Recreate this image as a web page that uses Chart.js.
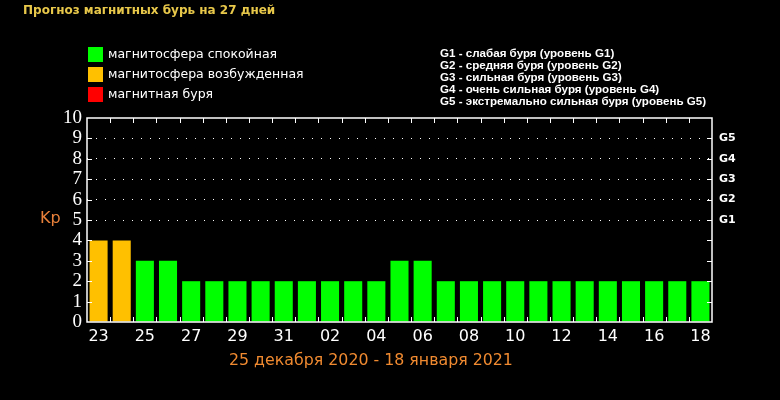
<!DOCTYPE html>
<html>
<head>
<meta charset="utf-8">
<script src="https://cdn.jsdelivr.net/npm/chart.js@4"></script>
<style>
  html, body { margin: 0; padding: 0; background: #000; }
  #wrap { position: relative; width: 780px; height: 400px; overflow: hidden; }
  #wrap canvas { position: absolute; left: 0; top: 0; }
  .txt { position: absolute; white-space: nowrap; }
  #title { left: 23px; top: 2px; font: bold 12px/16px "DejaVu Sans"; color: #e8c84a; }
  .leg { left: 88px; font: 12.5px/15px "DejaVu Sans"; color: #fff; }
  .leg span { display: inline-block; width: 15px; height: 15px; vertical-align: top; margin: 1px 5px 0 0; }
  #glev { left: 440px; top: 47px; font: bold 11.6px/12px "Liberation Sans"; color: #fff; }
  #kp { left: 40px; top: 208px; font: 16px/20px "DejaVu Sans"; color: #e8803a; }
  #period { left: 229px; top: 351px; font: 15.8px/18px "DejaVu Sans"; color: #f08a30; }
</style>
</head>
<body>
<div id="wrap">
  <canvas id="grafico" width="780" height="400"></canvas>
  <div class="txt" id="title">Прогноз магнитных бурь на 27 дней</div>
  <div class="txt leg" style="top:46px"><span style="background:#00ff00"></span>магнитосфера спокойная</div>
  <div class="txt leg" style="top:66px"><span style="background:#ffc000"></span>магнитосфера возбужденная</div>
  <div class="txt leg" style="top:86px"><span style="background:#ff0000"></span>магнитная буря</div>
  <div class="txt" id="glev">
    G1 - слабая буря (уровень G1)<br>
    G2 - средняя буря (уровень G2)<br>
    G3 - сильная буря (уровень G3)<br>
    G4 - очень сильная буря (уровень G4)<br>
    G5 - экстремально сильная буря (уровень G5)
  </div>
  <div class="txt" id="kp">Kp</div>
  <div class="txt" id="period">25 декабря 2020 - 18 января 2021</div>
</div>
<script>
// дни прогноза (23 дек - 18 янв)
const dias = ['23','24','25','26','27','28','29','30','31',
              '01','02','03','04','05','06','07','08','09',
              '10','11','12','13','14','15','16','17','18'];
// индекс Kp
const kp = [4,4,3,3,2,2,2,2,2,
            2,2,2,2,3,3,2,2,2,
            2,2,2,2,2,2,2,2,2];
// уровни бурь справа (Kp 5..9)
const nivelesG = ['G1','G2','G3','G4','G5'];

const VERDE = '#00ff00', NARANJA = '#ffc000', ROJO = '#ff0000';

// рамка и внутренние засечки
const marco = {
    id: 'marco',
    afterDraw(chart) {
        const { ctx, chartArea: a, scales } = chart;
        ctx.save();
        ctx.strokeStyle = '#fff';
        ctx.lineWidth = 1;
        ctx.beginPath();
        for (let i = 1; i < dias.length; i++) {
            const x = Math.round(scales.x.getPixelForValue(i - 0.5)) + 0.5;
            ctx.moveTo(x, a.bottom); ctx.lineTo(x, a.bottom - 5);
            ctx.moveTo(x, a.top); ctx.lineTo(x, a.top + 5);
        }
        for (let v = 1; v < 10; v++) {
            const y = Math.round(scales.y.getPixelForValue(v)) + 0.5;
            ctx.moveTo(a.left, y); ctx.lineTo(a.left + 5, y);
            ctx.moveTo(a.right, y); ctx.lineTo(a.right - 5, y);
        }
        ctx.stroke();
        ctx.lineWidth = 1.5;
        ctx.strokeRect(a.left, a.top, a.right - a.left, a.bottom - a.top);
        ctx.restore();
    }
};

const ctx = document.getElementById('grafico').getContext('2d');
new Chart(ctx, {
    type: 'bar',
    data: {
        labels: dias,
        datasets: [{
            data: kp,
            yAxisID: 'y',
            backgroundColor: c => {
                const v = c.raw;
                return v >= 5 ? ROJO : (v >= 4 ? NARANJA : VERDE);
            },
            borderWidth: 0,
            categoryPercentage: 1,
            barPercentage: 0.78
        }]
    },
    options: {
        responsive: false,
        animation: false,
        layout: { padding: { top: 118, left: 0, right: 0, bottom: 0 } },
        plugins: { legend: { display: false }, tooltip: { enabled: false } },
        scales: {
            x: {
                grid: { display: false, drawTicks: false },
                border: { display: false },
                ticks: {
                    autoSkip: false, maxRotation: 0, padding: 5,
                    color: '#fff',
                    font: { family: 'DejaVu Sans', size: 16 },
                    callback: (v, i) => i % 2 === 0 ? dias[i] : ''
                },
                afterFit: s => { s.height = 78; }
            },
            y: {
                min: 0, max: 10,
                grid: {
                    drawTicks: false,
                    color: c => (c.tick && c.tick.value >= 5 && c.tick.value <= 9) ? '#fff' : 'transparent'
                },
                border: { display: false, dash: [1, 8] },
                ticks: {
                    stepSize: 1, autoSkip: false, padding: 5, color: '#fff',
                    font: { family: 'Liberation Serif', size: 19 }
                },
                afterFit: s => { s.width = 87; }
            },
            y2: {
                position: 'right',
                min: 0, max: 10,
                grid: { display: false, drawTicks: false },
                border: { display: false },
                ticks: {
                    stepSize: 1, autoSkip: false, padding: 7, color: '#fff',
                    font: { family: 'DejaVu Sans', size: 11, weight: 'bold' },
                    callback: v => (v >= 5 && v <= 9) ? nivelesG[v - 5] : ''
                },
                afterFit: s => { s.width = 68; }
            }
        }
    },
    plugins: [marco]
});
</script>
</body>
</html>
